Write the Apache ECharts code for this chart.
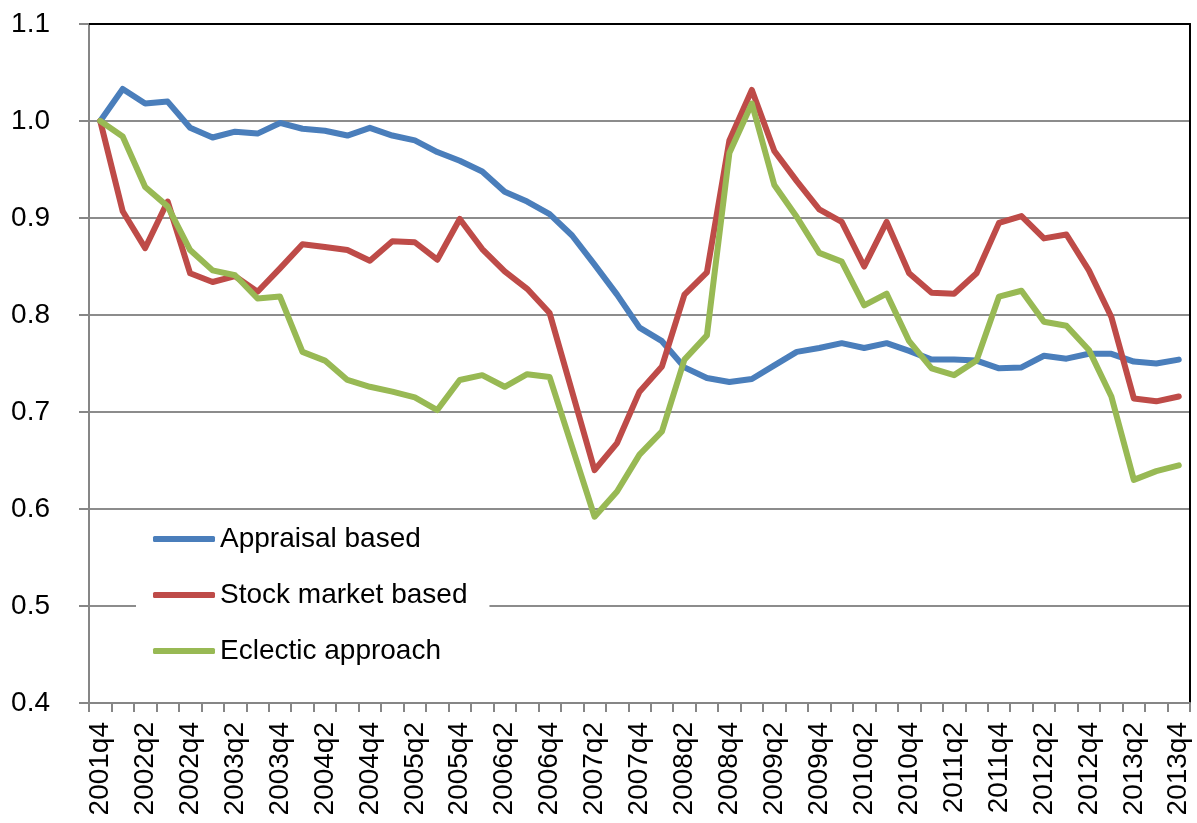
<!DOCTYPE html>
<html>
<head>
<meta charset="utf-8">
<script src="https://cdn.jsdelivr.net/npm/echarts@6/dist/echarts.min.js"></script>
<style>
  html, body { margin: 0; padding: 0; background: #fff; }
  #chart { width: 1197px; height: 823px; }
</style>
</head>
<body>
<div id="chart"></div>
<script>
var quarters = [
  "2001q4",
  "2002q1", "2002q2", "2002q3", "2002q4",
  "2003q1", "2003q2", "2003q3", "2003q4",
  "2004q1", "2004q2", "2004q3", "2004q4",
  "2005q1", "2005q2", "2005q3", "2005q4",
  "2006q1", "2006q2", "2006q3", "2006q4",
  "2007q1", "2007q2", "2007q3", "2007q4",
  "2008q1", "2008q2", "2008q3", "2008q4",
  "2009q1", "2009q2", "2009q3", "2009q4",
  "2010q1", "2010q2", "2010q3", "2010q4",
  "2011q1", "2011q2", "2011q3", "2011q4",
  "2012q1", "2012q2", "2012q3", "2012q4",
  "2013q1", "2013q2", "2013q3", "2013q4"
];

var appraisal = [
  1.000, 1.033, 1.018, 1.020, 0.993, 0.983, 0.989, 0.987, 0.998, 0.992,
  0.990, 0.985, 0.993, 0.985, 0.980, 0.968, 0.959, 0.948, 0.927, 0.917,
  0.904, 0.882, 0.852, 0.821, 0.787, 0.773, 0.746, 0.735, 0.731, 0.734,
  0.748, 0.762, 0.766, 0.771, 0.766, 0.771, 0.763, 0.754, 0.754, 0.753,
  0.745, 0.746, 0.758, 0.755, 0.760, 0.760, 0.752, 0.750, 0.754
];

var stockMarket = [
  1.000, 0.907, 0.869, 0.917, 0.843, 0.834, 0.840, 0.824, 0.848, 0.873,
  0.870, 0.867, 0.856, 0.876, 0.875, 0.857, 0.899, 0.868, 0.845, 0.827,
  0.802, 0.721, 0.640, 0.668, 0.721, 0.747, 0.821, 0.844, 0.980, 1.032,
  0.969, 0.938, 0.909, 0.896, 0.850, 0.896, 0.843, 0.823, 0.822, 0.843,
  0.895, 0.902, 0.879, 0.883, 0.846, 0.798, 0.714, 0.711, 0.716
];

var eclectic = [
  1.000, 0.984, 0.932, 0.912, 0.867, 0.846, 0.841, 0.817, 0.819, 0.762,
  0.753, 0.733, 0.726, 0.721, 0.715, 0.702, 0.733, 0.738, 0.726, 0.739,
  0.736, 0.664, 0.592, 0.618, 0.656, 0.680, 0.754, 0.779, 0.967, 1.018,
  0.934, 0.901, 0.864, 0.855, 0.810, 0.822, 0.773, 0.745, 0.738, 0.753,
  0.819, 0.825, 0.793, 0.789, 0.764, 0.716, 0.630, 0.639, 0.645
];

var seriesNames = ["Appraisal based", "Stock market based", "Eclectic approach"];
var seriesColors = ["#4a7ebb", "#be4b48", "#98b954"];

var chart = echarts.init(document.getElementById("chart"));

var fontFamily = "Liberation Sans, Arial, sans-serif";

function lineSeries(name, data, color) {
  return {
    name: name,
    type: "line",
    data: data,
    symbol: "none",
    smooth: false,
    lineStyle: { color: color, width: 6, cap: "round", join: "round" },
    itemStyle: { color: color }
  };
}

chart.setOption({
  animation: false,
  backgroundColor: "#fff",
  textStyle: { fontFamily: fontFamily, color: "#000" },
  grid: { left: 89, right: 7, top: 24, bottom: 120 },
  legend: {
    orient: "vertical",
    left: 136,
    top: 515,
    padding: [10, 22, 10, 17],
    backgroundColor: "#fff",
    icon: "roundRect",
    itemWidth: 62,
    itemHeight: 6,
    itemGap: 28,
    data: seriesNames,
    textStyle: { fontSize: 28, color: "#000", fontFamily: fontFamily }
  },
  xAxis: [
    {
      type: "category",
      data: quarters,
      boundaryGap: true,
      axisLine: { show: true, lineStyle: { color: "#868686", width: 2 } },
      axisTick: { show: true, interval: 0, length: 9, lineStyle: { color: "#868686", width: 2 } },
      axisLabel: {
        interval: 1,
        rotate: 90,
        margin: 19,
        fontSize: 28,
        color: "#000",
        fontFamily: fontFamily
      },
      splitLine: { show: false }
    },
    {
      type: "category",
      data: quarters,
      position: "top",
      axisLine: { show: true, lineStyle: { color: "#000", width: 2 } },
      axisTick: { show: false },
      axisLabel: { show: false },
      splitLine: { show: false }
    }
  ],
  yAxis: [
    {
      type: "value",
      min: 0.4,
      max: 1.1,
      interval: 0.1,
      axisLine: { show: true, lineStyle: { color: "#868686", width: 2 } },
      axisTick: { show: true, length: 10, lineStyle: { color: "#868686", width: 2 } },
      axisLabel: {
        margin: 39,
        fontSize: 28,
        color: "#000",
        fontFamily: fontFamily,
        formatter: function (v) { return v.toFixed(1); }
      },
      splitLine: { show: true, lineStyle: { color: "#8c8c8c", width: 2 } }
    },
    {
      type: "value",
      position: "right",
      min: 0.4,
      max: 1.1,
      interval: 0.1,
      axisLine: { show: true, lineStyle: { color: "#000", width: 2 } },
      axisTick: { show: false },
      axisLabel: { show: false },
      splitLine: { show: false }
    }
  ],
  series: [
    lineSeries(seriesNames[0], appraisal, seriesColors[0]),
    lineSeries(seriesNames[1], stockMarket, seriesColors[1]),
    lineSeries(seriesNames[2], eclectic, seriesColors[2])
  ]
});
</script>
</body>
</html>
